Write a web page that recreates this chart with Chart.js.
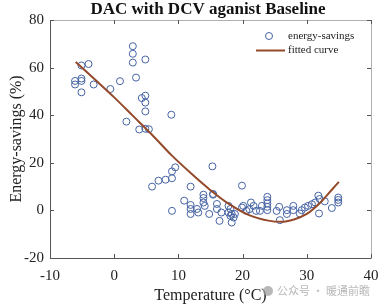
<!DOCTYPE html>
<html><head><meta charset="utf-8">
<script src="https://cdn.jsdelivr.net/npm/chart.js@4"></script>
<style>html,body{margin:0;padding:0;background:#fff}#wrap{width:379px;height:306px}</style>
</head><body><div id="wrap"><canvas id="c" width="379" height="306"></canvas></div>
<script>
const chartTitle = 'DAC with DCV aganist Baseline';
const xAxisTitle = 'Temperature (°C)';
const yAxisTitle = 'Energy-savings (%)';
const legendLabels = ['energy-savings', 'fitted curve'];
const watermark = '公众号 · 暖通前瞻';
const xTicks = [-10, 0, 10, 20, 30, 40];
const yTicks = [-20, 0, 20, 40, 60, 80];

const obsTemp = [-6.1,-6.1,-5.1,-5.1,-5.1,-5.1,-4.0,-3.2,-0.6,0.9,1.9,2.9,2.9,2.9,3.4,4.85,4.3,4.85,4.85,4.85,3.9,4.85,5.4,8.9,9.5,9.0,9.0,8.0,6.9,5.9,9.0,11.9,10.9,13.9,13.9,13.9,14.1,15.4,15.3,11.9,11.9,11.9,12.9,13.1,14.8,16.0,16.0,16.7,16.4,17.8,18.1,17.8,18.3,18.6,18.1,18.3,18.8,19.9,19.9,20.1,21.3,21.7,21.05,20.6,22.1,23.0,22.7,23.85,23.85,23.85,23.85,23.85,25.7,25.3,25.8,26.9,26.9,27.9,27.9,28.9,29.2,29.7,30.2,30.8,31.3,31.8,32.0,32.8,31.9,33.9,34.9,34.9,34.9,15.4];
const obsSavings = [54.4,52.9,55.4,54.4,49.6,60.9,61.5,52.9,51.0,54.3,37.3,69.0,65.8,62.1,55.8,63.4,47.2,48.2,45.3,41.6,34.0,34.3,34.1,40.2,18.1,16.4,13.5,12.9,12.5,10.0,-0.2,10.0,4.1,6.6,5.2,3.3,1.9,6.6,18.5,2.3,0.6,-1.5,0.6,-0.9,-1.5,2.7,0.6,-0.9,-4.4,1.9,0.6,-0.9,-1.5,-3.0,-2.3,-5.1,-1.5,1.2,10.4,1.9,3.3,1.9,0.5,-0.2,-0.2,1.9,-0.2,5.7,4.3,2.9,1.5,0.1,1.5,-0.2,-4.1,0.1,-1.5,1.9,0.1,-1.3,0.1,1.2,1.9,2.6,3.3,6.2,4.8,3.8,-1.3,1.0,5.4,4.4,3.3,6.9];

const fitTemp = [-6, -3, 0, 3, 6, 9, 12, 15, 18, 21, 24, 26, 28, 30, 32, 34, 35];
const fitSavings = [62.4, 55, 47.5, 39.5, 31.5, 23, 15.5, 8.5, 2.5, -2, -4.3, -4.8, -3.8, -1.5, 3, 9, 12];

const pointColor = '#4563a3';
const curveColor = '#94492a';
const serif = '"Liberation Serif", "Times New Roman", serif';

const boxPlugin = {
  id: 'boxPlugin',
  afterDraw(chart) {
    const {ctx, chartArea: a, scales: {x, y}} = chart;
    ctx.save();
    ctx.lineWidth = 1;
    ctx.strokeStyle = '#b0b0b0';
    ctx.beginPath();
    ctx.moveTo(a.left, a.top + 0.5); ctx.lineTo(a.right + 0.5, a.top + 0.5); ctx.lineTo(a.right + 0.5, a.bottom);
    ctx.stroke();
    ctx.strokeStyle = '#555';
    ctx.beginPath();
    ctx.moveTo(a.left + 0.5, a.top); ctx.lineTo(a.left + 0.5, a.bottom + 0.5); ctx.lineTo(a.right + 0.5, a.bottom + 0.5);
    ctx.stroke();
    const L = 4;
    ctx.strokeStyle = '#555';
    ctx.beginPath();
    xTicks.forEach(v => {
      const px = Math.round(x.getPixelForValue(v)) + 0.5;
      ctx.moveTo(px, a.bottom); ctx.lineTo(px, a.bottom - L);
      ctx.moveTo(px, a.top); ctx.lineTo(px, a.top + L);
    });
    yTicks.forEach(v => {
      const py = Math.round(y.getPixelForValue(v)) + 0.5;
      ctx.moveTo(a.left, py); ctx.lineTo(a.left + L, py);
      ctx.moveTo(a.right, py); ctx.lineTo(a.right - L, py);
    });
    ctx.stroke();
    ctx.fillStyle = '#111';
    ctx.font = 'bold 17px ' + serif;
    ctx.textAlign = 'center';
    ctx.textBaseline = 'middle';
    ctx.fillText(chartTitle, 208, 10);
    ctx.font = '11px ' + serif;
    ctx.textAlign = 'left';
    ctx.fillStyle = '#222';
    ctx.strokeStyle = pointColor;
    ctx.lineWidth = 1;
    ctx.beginPath(); ctx.arc(269, 36, 3.5, 0, Math.PI * 2); ctx.stroke();
    ctx.fillText(legendLabels[0], 288, 36);
    ctx.strokeStyle = curveColor;
    ctx.lineWidth = 2;
    ctx.beginPath(); ctx.moveTo(256, 50.5); ctx.lineTo(285, 50.5); ctx.stroke();
    ctx.fillText(legendLabels[1], 288, 50);
    ctx.fillStyle = 'rgba(160,160,160,0.75)';
    ctx.beginPath(); ctx.arc(268, 291, 5, 0, Math.PI * 2); ctx.fill();
    ctx.font = '11px "Noto Sans CJK SC", sans-serif';
    ctx.fillText(watermark, 277, 291);
    ctx.restore();
  }
};

new Chart(document.getElementById('c'), {
  type: 'scatter',
  data: {
    datasets: [
      {
        type: 'line',
        label: legendLabels[1],
        data: fitTemp.map((t, i) => ({x: t, y: fitSavings[i]})),
        borderColor: curveColor,
        borderWidth: 2,
        pointRadius: 0,
        fill: false,
        tension: 0.4,
        cubicInterpolationMode: 'monotone',
        order: 1
      },
      {
        label: legendLabels[0],
        data: obsTemp.map((t, i) => ({x: t, y: obsSavings[i]})),
        pointRadius: 3.5,
        pointBorderWidth: 1,
        pointBorderColor: pointColor,
        pointBackgroundColor: 'rgba(0,0,0,0)',
        order: 2
      }
    ]
  },
  options: {
    responsive: false,
    devicePixelRatio: 1,
    animation: false,
    layout: {padding: {top: 20, right: 8, left: 0, bottom: 0}},
    plugins: {legend: {display: false}, tooltip: {enabled: false}, title: {display: false}},
    scales: {
      x: {
        type: 'linear', min: -10, max: 40,
        afterBuildTicks: s => { s.ticks = xTicks.map(v => ({value: v})); },
        afterFit: s => { s.height = 48; s.paddingRight = 0; s.paddingLeft = 0; },
        grid: {display: false, drawTicks: false},
        border: {display: false},
        ticks: {font: {family: serif, size: 15}, color: '#222', padding: 9},
        title: {display: true, text: xAxisTitle, font: {family: serif, size: 16}, color: '#222', padding: {top: 0, bottom: 1}}
      },
      y: {
        type: 'linear', min: -20, max: 80,
        afterBuildTicks: s => { s.ticks = yTicks.map(v => ({value: v})); },
        afterFit: s => { s.width = 50; },
        grid: {display: false, drawTicks: false},
        border: {display: false},
        ticks: {font: {family: serif, size: 15}, color: '#222', padding: 6},
        title: {display: true, text: yAxisTitle, font: {family: serif, size: 16}, color: '#222', padding: {top: 7, bottom: 0}}
      }
    }
  },
  plugins: [boxPlugin]
});
</script>
</body></html>
